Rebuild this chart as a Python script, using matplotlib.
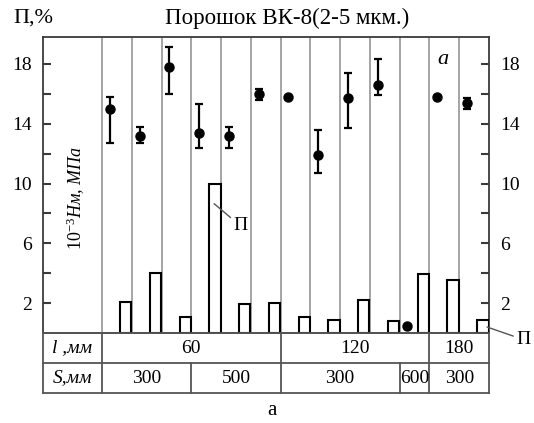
import numpy as np
import matplotlib
matplotlib.use("Agg")
import matplotlib.pyplot as plt

plt.rcParams['font.family'] = ['Liberation Serif', 'DejaVu Serif']
plt.rcParams['mathtext.fontset'] = 'custom'
plt.rcParams['mathtext.rm'] = 'Liberation Serif'
plt.rcParams['mathtext.it'] = 'Liberation Serif:italic'

# Hardness, 10^-3 Нм, МПа (mean and scatter bounds) for each test column
hardness = [15.0, 13.2, 17.8, 13.4, 13.2, 16.0, 15.8, 11.9, 15.7, 16.6, 0.5, 15.8, 15.4]
hard_low = [12.7, 12.7, 16.0, 12.35, 12.4, 15.6, None, 10.7, 13.7, 15.9, None, None, 15.0]
hard_high = [15.8, 13.8, 19.1, 15.35, 13.8, 16.3, None, 13.6, 17.4, 18.3, None, None, 15.7]
# Porosity П, %
porosity = [2.1, 4.0, 1.1, 10.0, 1.95, 2.0, 1.05, 0.85, 2.2, 0.8, 3.95, 3.55, 0.85]

# Table under the chart: group values and how many columns each covers
l_groups = ["60", "120", "180"]
l_spans = [6, 5, 2]
s_groups = ["300", "500", "300", "600", "300"]
s_spans = [3, 3, 4, 1, 2]

yticks = [2, 4, 6, 8, 10, 12, 14, 16, 18]
ytick_labels = ["2", "", "6", "", "10", "", "14", "", "18"]

W, H = 534, 423
fig = plt.figure(figsize=(W / 100, H / 100), dpi=100)
L, R, T, B = 43, 489, 37, 333
TB = 393
n = len(hardness)
col_px = (R - 102) / n
x_left = -(102 - L) / col_px

frame_c = '#3a3a3a'
grid_c = '#8c8c8c'

ax = fig.add_axes([L / W, 1 - B / H, (R - L) / W, (B - T) / H])
ax.set_xlim(x_left, n)
ax.set_ylim(0, 19.8)
for s in ax.spines.values():
    s.set_color(frame_c)
    s.set_linewidth(1.3)

# column separators
for i in range(n):
    ax.axvline(i, color=grid_c, lw=1.1, zorder=1)

# porosity bars, flush against the right separator of each column
bar_w = 0.38
xs_bar = np.arange(n) + 1 - bar_w / 2 - 0.015
ax.bar(xs_bar, porosity, width=bar_w, facecolor='white', edgecolor='black',
       linewidth=1.5, zorder=3)

# hardness points with scatter bars
xs_pt = np.arange(n) + 0.26
for x, h, lo, hi in zip(xs_pt, hardness, hard_low, hard_high):
    if lo is not None:
        ax.errorbar([x], [h], yerr=[[h - lo], [hi - h]], fmt='o', color='black',
                    ms=6.5, elinewidth=1.6, capsize=3.2, capthick=1.6, zorder=4)
    else:
        ax.plot([x], [h], 'o', color='black', ms=6.5, zorder=4)

# ticks on both sides, pointing inward
ax.set_xticks([])
ax.set_yticks(yticks)
ax.set_yticklabels(ytick_labels)
ax.tick_params(axis='y', which='both', direction='in', length=6, width=1.5,
               color=frame_c, labelsize=14, pad=8, left=True, right=True,
               labelleft=True, labelright=True)

# axis caption, rotated
ax.text(-0.88, 9.0, r"$\mathit{10^{-3}}$" + "Нм, МПа", rotation=90, fontsize=13,
        style='italic', ha='center', va='center')

# panel letter
ax.text(11.44, 18.3, "a", fontsize=16, style='italic', ha='center', va='center')

# porosity callouts
ax.annotate("П", xy=(xs_bar[3] - 0.03, porosity[3] - 1.35), xytext=(19, -16),
            textcoords='offset points', fontsize=14, ha='center', va='center',
            arrowprops=dict(arrowstyle='-', color='#555555', lw=1.0,
                            shrinkA=0, shrinkB=0))
ax.annotate("П", xy=(xs_bar[12] + 0.14, porosity[12] - 0.45), xytext=(26, -9),
            textcoords='offset points', fontsize=14, ha='center', va='center',
            annotation_clip=False,
            arrowprops=dict(arrowstyle='-', color='#555555', lw=1.0,
                            shrinkA=0, shrinkB=0))

# header texts
fig.text(13 / W, 1 - 18 / H, "П,%", fontsize=16, ha='left', va='center')
fig.text(287 / W, 1 - 18 / H, "Порошок ВК-8(2-5 мкм.)", fontsize=16.5,
         ha='center', va='center')

# table of process parameters
tab = fig.add_axes([L / W, 1 - TB / H, (R - L) / W, (TB - B) / H])
tab.set_xlim(x_left, n)
tab.set_ylim(0, 2)
tab.set_xticks([])
tab.set_yticks([])
tab.patch.set_alpha(0)
for s in tab.spines.values():
    s.set_color('#555555')
    s.set_linewidth(1.3)
line_kw = dict(color='#555555', lw=1.3, clip_on=False)
tab.plot([x_left, n], [1, 1], **line_kw)
tab.plot([0, 0], [0, 2], **line_kw)

tab.text(x_left / 2, 1.5, "l ,мм", fontsize=14, style='italic', ha='center', va='center')
tab.text(x_left / 2, 0.5, "S,мм", fontsize=14, style='italic', ha='center', va='center')

start = 0
for lab, span in zip(l_groups, l_spans):
    end = start + span
    if end < n:
        tab.plot([end, end], [1, 2], **line_kw)
    tab.text((start + end) / 2, 1.5, lab, fontsize=14, ha='center', va='center')
    start = end

start = 0
for lab, span in zip(s_groups, s_spans):
    end = start + span
    if end < n:
        tab.plot([end, end], [0, 1], **line_kw)
    tab.text((start + end) / 2, 0.5, lab, fontsize=14, ha='center', va='center')
    start = end

fig.text(272 / W, 1 - 410 / H, "а", fontsize=15, ha='center', va='center')

fig.savefig("out.png", dpi=100)
